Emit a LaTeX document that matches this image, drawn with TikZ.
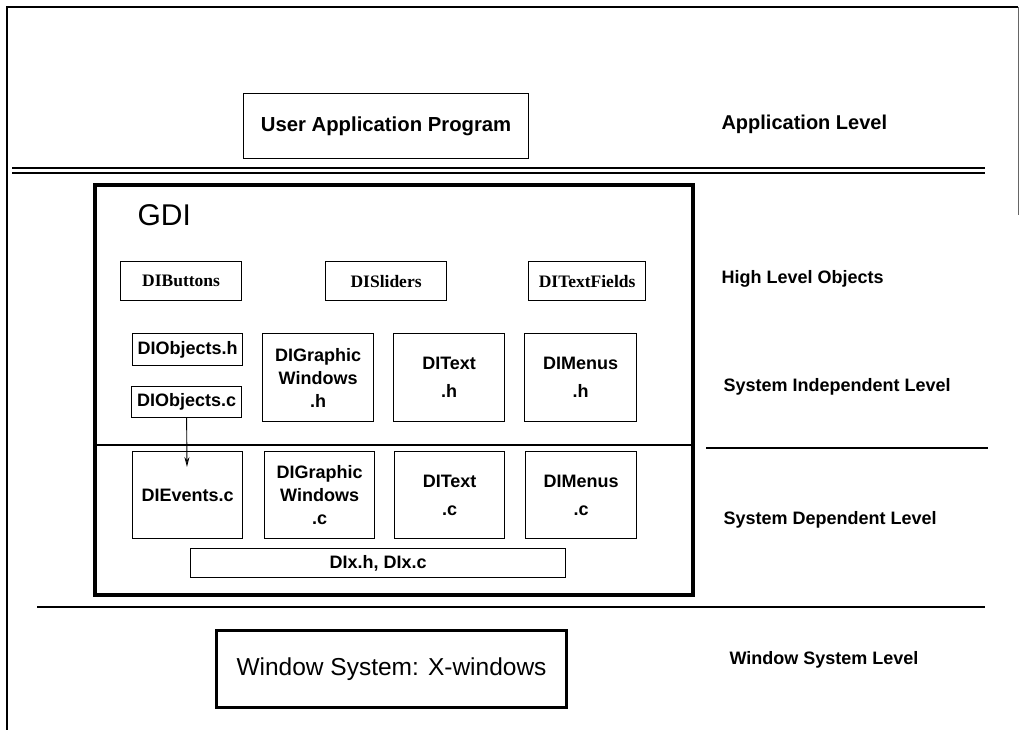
\documentclass[tikz,border=0pt]{standalone}
\usepackage{fontspec}
\setmainfont{Liberation Sans}
\newfontfamily\serifbf{Liberation Serif}
\usetikzlibrary{arrows.meta}
\begin{document}
\begin{tikzpicture}[x=1pt,y=-1pt,
  box/.style={draw,line width=1.2pt,inner sep=0pt,anchor=north west,align=center},
  hobj/.style={box,font=\serifbf\bfseries\fontsize{17.5}{20}\selectfont},
  fbox/.style={box,font=\bfseries\fontsize{18}{23}\selectfont},
  lvl/.style={font=\bfseries\fontsize{18}{21}\selectfont,anchor=west}]
\useasboundingbox (0,0) rectangle (1020,730);
% page frame
\draw[line width=1.2pt] (7,730) -- (7,7) -- (1018,7);
\draw[line width=1pt,black!60] (1018,7) -- (1018,215);
% application level
\node[box,minimum width=285pt,minimum height=65pt,font=\bfseries\fontsize{20.3}{24}\selectfont] (uap) at (243,93) {User Application Program};
\node[lvl,font=\bfseries\fontsize{20}{24}\selectfont] (applvl) at (718,124) {Application Level};
\coordinate (dl1) at (12,168); \coordinate (dr1) at (985,168);
\coordinate (dl2) at (12,173); \coordinate (dr2) at (985,173);
\draw[line width=1.6pt] (dl1) -- (dr1);
\draw[line width=1.6pt] (dl2) -- (dr2);
% GDI
\node[draw,line width=4pt,minimum width=598pt,minimum height=410pt,anchor=north west,inner sep=0pt] (gdi) at (93,183) {};
\node[font=\fontsize{30}{32}\selectfont,anchor=west] (gdit) at (134,215) {GDI};
% high level objects
\node[hobj,minimum width=121pt,minimum height=39pt] (btn) at (120,261) {DIButtons};
\node[hobj,minimum width=121pt,minimum height=39pt] (sld) at (325,261) {DISliders};
\node[hobj,minimum width=117pt,minimum height=39pt] (tf) at (528,261) {DITextFields};
% system independent
\node[fbox,minimum width=110pt,minimum height=32pt] (objh) at (132,333) {DIObjects.h};
\node[fbox,minimum width=110pt,minimum height=31pt] (objc) at (131,386) {DIObjects.c};
\node[fbox,minimum width=111pt,minimum height=88pt] (gwh) at (262,333) {DIGraphic\\Windows\\.h};
\node[fbox,minimum width=111pt,minimum height=88pt] (txh) at (393,333) {DIText\\[5pt].h};
\node[fbox,minimum width=112pt,minimum height=88pt] (mnh) at (524,333) {DIMenus\\[5pt].h};
% divider
\coordinate (sl) at (93,445); \coordinate (sr) at (691,445);
\draw[line width=1.4pt] (sl) -- (sr);
\coordinate (el) at (706,448); \coordinate (er) at (988,448);
\draw[line width=1.2pt] (el) -- (er);
% system dependent
\node[fbox,minimum width=110pt,minimum height=87pt] (ev) at (132,451) {DIEvents.c};
\node[fbox,minimum width=110pt,minimum height=87pt] (gwc) at (264,451) {DIGraphic\\Windows\\.c};
\node[fbox,minimum width=110pt,minimum height=87pt] (txc) at (394,451) {DIText\\[5pt].c};
\node[fbox,minimum width=111pt,minimum height=87pt] (mnc) at (525,451) {DIMenus\\[5pt].c};
\node[fbox,minimum width=375pt,minimum height=29pt] (dix) at (190,548) {DIx.h, DIx.c};
\coordinate (arrend) at (187,467);
\draw[line width=0.9pt,-{Stealth[open,length=10pt,width=5pt]}] (objc.south) -- (arrend);
% window system
\coordinate (wl) at (37,607); \coordinate (wr) at (985,607);
\draw[line width=1.8pt] (wl) -- (wr);
\node[box,line width=3pt,minimum width=350pt,minimum height=77pt,font=\fontsize{24.5}{28}\selectfont] (ws) at (215,629) {Window System: X-windows};
% level labels
\node[lvl] (hlo) at (718,279) {High Level Objects};
\node[lvl] (sil) at (720,387) {System Independent Level};
\node[lvl] (sdl) at (720,520) {System Dependent Level};
\node[lvl] (wsl) at (726,660) {Window System Level};
\end{tikzpicture}
\end{document}
